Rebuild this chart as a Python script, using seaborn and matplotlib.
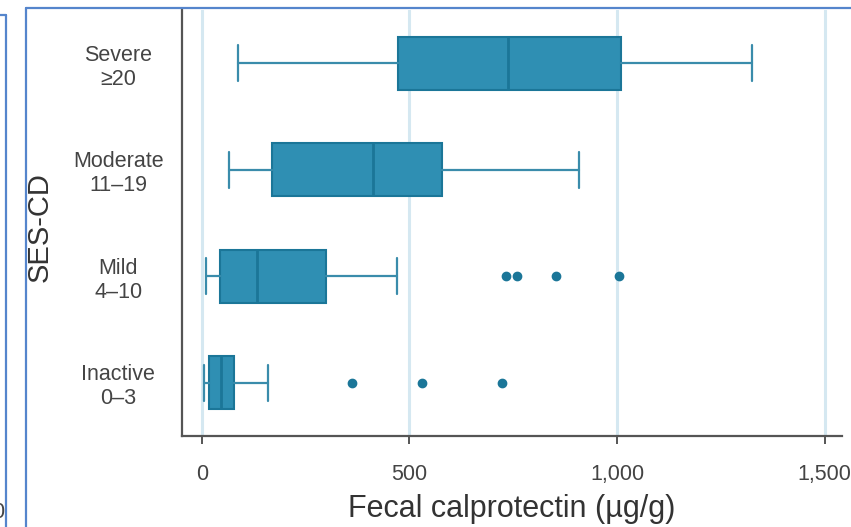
import matplotlib
matplotlib.use("Agg")
import matplotlib.pyplot as plt
import seaborn as sns
from matplotlib.lines import Line2D

# values (five-number summary per SES-CD group)
categories = ["Severe\n≥20", "Moderate\n11–19", "Mild\n4–10", "Inactive\n0–3"]
whisker_low = [87, 65, 10, 5]
quart1 = [472, 169, 43, 17]
median = [737, 412, 133, 46]
quart3 = [1010, 578, 299, 77]
whisker_high = [1325, 908, 470, 159]
outliers = [[], [], [733, 759, 853, 1005], [361, 530, 723]]
xticks = [0, 500, 1000, 1500]

BOX = "#2f8fb3"
EDGE = "#1b7698"
WHISK = "#3a8cab"
GRID = "#d5e8f1"
SPINE = "#555555"
BORDER = "#5585cc"

sns.set_style("ticks")
plt.rcParams["font.family"] = ["Liberation Sans", "DejaVu Sans"]

fig = plt.figure(figsize=(8.51, 5.27), dpi=100)
ax = fig.add_axes([182 / 851, 1 - 436 / 527, 660 / 851, 426 / 527])

stats = []
for i, c in enumerate(categories):
    stats.append(dict(label=c, whislo=whisker_low[i], q1=quart1[i], med=median[i],
                      q3=quart3[i], whishi=whisker_high[i], fliers=outliers[i]))

ax.bxp(stats, positions=range(len(categories)), widths=0.5, orientation="horizontal",
       patch_artist=True, capwidths=0.34,
       boxprops=dict(facecolor=BOX, edgecolor=EDGE, linewidth=1.5),
       medianprops=dict(color=EDGE, linewidth=2),
       whiskerprops=dict(color=WHISK, linewidth=1.6),
       capprops=dict(color=WHISK, linewidth=1.6),
       flierprops=dict(marker="o", markerfacecolor=EDGE, markeredgecolor=EDGE, markersize=6))

ax.set_xlim(-48, 1542)
ax.set_ylim(3.5, -0.5)
ax.set_xticks(xticks)
ax.set_xticklabels([f"{v:,}" for v in xticks])
ax.set_yticks(range(len(categories)))
ax.set_yticklabels(categories)
for lab in ax.get_yticklabels():
    lab.set_ha("center")
    lab.set_multialignment("center")

ax.xaxis.grid(True, color=GRID, linewidth=2.2)
ax.set_axisbelow(True)

for s in ["top", "right"]:
    ax.spines[s].set_visible(False)
for s in ["left", "bottom"]:
    ax.spines[s].set_color(SPINE)
    ax.spines[s].set_linewidth(1.6)

ax.tick_params(axis="x", length=6, width=1.4, color=SPINE, labelsize=15.5, labelcolor="#444444", pad=14)
ax.tick_params(axis="y", length=0, labelsize=15.5, labelcolor="#444444", pad=46)

ax.set_xlabel("Fecal calprotectin (µg/g)", fontsize=22, color="#333333", labelpad=7)
ax.set_ylabel("SES-CD", fontsize=21, color="#333333")
ax.yaxis.set_label_coords(-0.195, 0.49)

# panel borders from the surrounding figure
fig.add_artist(Line2D([26 / 851, 26 / 851], [0, 1 - 8 / 527], transform=fig.transFigure, color=BORDER, lw=1.6))
fig.add_artist(Line2D([26 / 851, 1], [1 - 8 / 527, 1 - 8 / 527], transform=fig.transFigure, color=BORDER, lw=1.6))
fig.add_artist(Line2D([6 / 851, 6 / 851], [0, 1 - 15 / 527], transform=fig.transFigure, color=BORDER, lw=1.6))
fig.add_artist(Line2D([0, 6 / 851], [1 - 15 / 527, 1 - 15 / 527], transform=fig.transFigure, color=BORDER, lw=1.6))
fig.text(4 / 851, 1 - 512 / 527, "0", ha="right", va="center", fontsize=15.5, color="#444444")

fig.savefig("out.png", dpi=100, facecolor="white")
